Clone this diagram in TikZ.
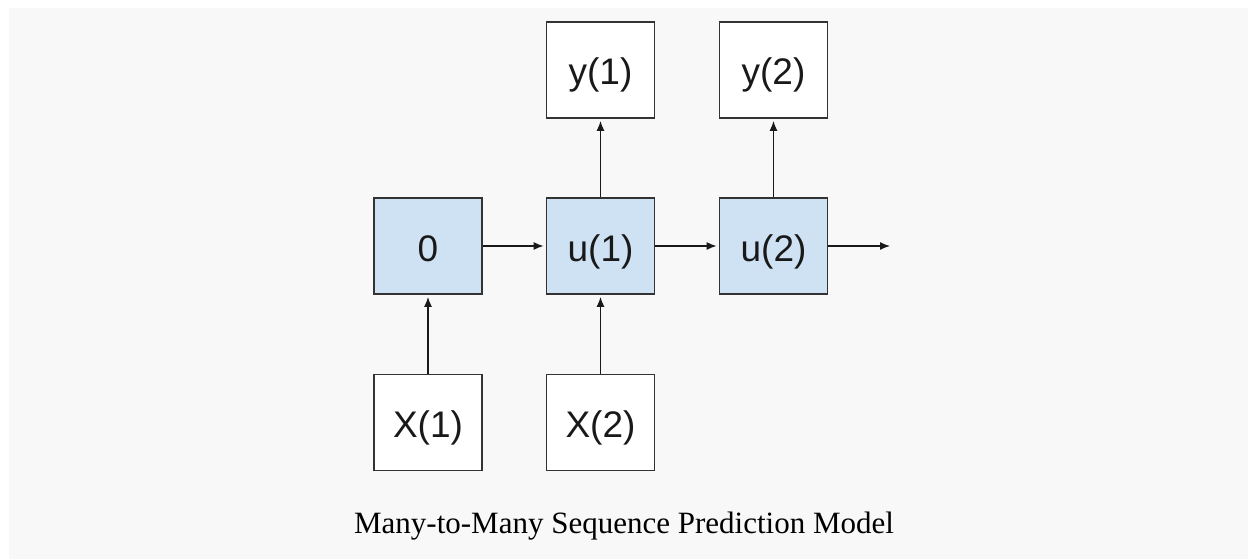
\documentclass[tikz,border=0pt]{standalone}
\usepackage{fontspec}
\newfontfamily\boxfont{Liberation Sans}
\newfontfamily\capfont{Liberation Serif}
\usetikzlibrary{arrows.meta}
\definecolor{bggray}{HTML}{F8F8F8}
\definecolor{cellblue}{HTML}{CFE2F3}
\definecolor{edgegray}{HTML}{333333}
\begin{document}
\begin{tikzpicture}[x=1pt,y=-1pt,
  cellbox/.style={draw=edgegray, line width=1.8pt, minimum width=108pt, minimum height=96pt,
    inner sep=0pt, text height=36pt, text depth=6pt,
    font=\boxfont\fontsize{37}{42}\selectfont, text=black!90},
  statebox/.style={cellbox, fill=cellblue},
  plainbox/.style={cellbox, fill=white},
  conn/.style={draw=black!90, line width=1.3pt, -{Latex[length=10pt,width=8pt]}, shorten >=2pt}]
  \useasboundingbox (0,0) rectangle (1248,559);
  \fill[white] (0,0) rectangle (1248,559);
  \fill[bggray] (9,8) rectangle (1248,559);

  \node[statebox] (zero) at (428,246) {0};
  \node[statebox] (u1) at (600.5,246) {u(1)};
  \node[statebox] (u2) at (773.5,246) {u(2)};
  \node[plainbox] (y1) at (600.5,70) {y(1)};
  \node[plainbox] (y2) at (773.5,70) {y(2)};
  \node[plainbox] (x1) at (428,422.5) {X(1)};
  \node[plainbox] (x2) at (600.5,422.5) {X(2)};
  \coordinate (out) at (892,246);

  \draw[conn] (zero) -- (u1);
  \draw[conn] (u1) -- (u2);
  \draw[conn] (u2.east) -- (out);
  \draw[conn] (x1) -- (zero);
  \draw[conn] (x2) -- (u1);
  \draw[conn] (u1) -- (y1);
  \draw[conn] (u2) -- (y2);

  \node[anchor=base, inner sep=0pt, font=\capfont\fontsize{31}{36}\selectfont] (caption) at (624,533) {Many-to-Many Sequence Prediction Model};
\end{tikzpicture}
\end{document}
